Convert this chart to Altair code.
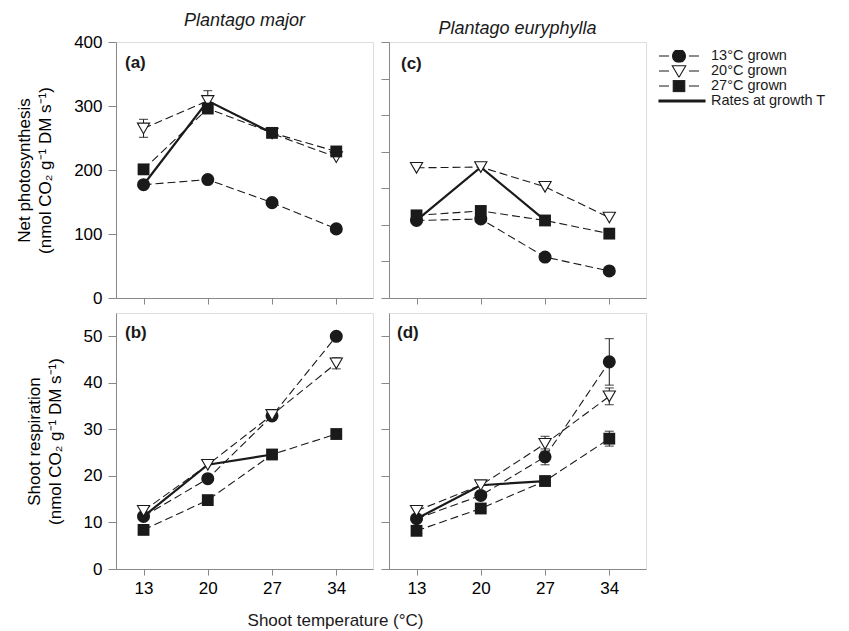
import altair as alt
import pandas as pd

INK = "#1a1a1a"
FONT = "Liberation Sans"

# ---------------- data ----------------
temps = [13, 20, 27, 34]
growth = ["13°C grown", "20°C grown", "27°C grown"]
gt_label = "Rates at growth T"

# Net photosynthesis, Plantago major (a)
pm_photo_13 = [177, 185, 149, 108]
pm_photo_20 = [265, 308, 257, 220]
pm_photo_27 = [201, 296, 258, 229]
pm_photo_err_13 = [0, 0, 0, 0]
pm_photo_err_20 = [14, 16, 0, 0]
pm_photo_err_27 = [0, 0, 0, 0]

# Net photosynthesis, Plantago euryphylla (c)
pe_photo_13 = [106, 108, 56, 37]
pe_photo_20 = [178, 179, 152, 110]
pe_photo_27 = [113, 119, 106, 88]
pe_photo_err_13 = [0, 0, 0, 0]
pe_photo_err_20 = [0, 0, 0, 0]
pe_photo_err_27 = [0, 0, 0, 0]

# Shoot respiration, Plantago major (b)
pm_resp_13 = [11.3, 19.4, 32.9, 50.0]
pm_resp_20 = [12.5, 22.4, 33.1, 44.2]
pm_resp_27 = [8.4, 14.8, 24.6, 29.0]
pm_resp_err_13 = [0, 0, 0, 0]
pm_resp_err_20 = [0, 0, 0, 1.2]
pm_resp_err_27 = [0, 0, 0, 0]

# Shoot respiration, Plantago euryphylla (d)
pe_resp_13 = [10.8, 15.8, 24.1, 44.5]
pe_resp_20 = [12.5, 18.0, 26.9, 37.1]
pe_resp_27 = [8.2, 13.0, 18.9, 28.0]
pe_resp_err_13 = [0, 0, 1.7, 5.0]
pe_resp_err_20 = [0, 0, 1.6, 1.8]
pe_resp_err_27 = [0, 0, 0, 1.6]

photo_ticks_a = [0, 100, 200, 300, 400]
photo_ticks_c = [0, 50, 100, 150, 200, 250, 300, 350]
resp_ticks = [0, 10, 20, 30, 40, 50]

legend_entries = growth + [gt_label]

# legend symbols (custom paths: dash - marker - dash), unit box = 40 px
legend_paths = [
    "M-1,0H-0.5M0.5,0H1M-0.325,0A0.325,0.325,0,1,0,0.325,0A0.325,0.325,0,1,0,-0.325,0Z",
    "M-1,0H-0.5M0.5,0H1M-0.3375,-0.2625L0.3375,-0.2625L0,0.3125Z",
    "M-1,0H-0.5M0.5,0H1M-0.2875,-0.2875H0.2875V0.2875H-0.2875Z",
    "M-1,-0.05H1.3V0.05H-1Z",
]
legend_fills = [INK, "white", INK, INK]
legend_strokes = [INK, INK, INK, INK]


def build_df(v13, v20, v27, e13, e20, e27):
    rows = []
    for g, vals, errs in zip(growth, [v13, v20, v27], [e13, e20, e27]):
        for t, v, e in zip(temps, vals, errs):
            rows.append({"temp": t, "value": v, "growth": g,
                         "lo": v - e, "hi": v + e, "err": e})
    return pd.DataFrame(rows)


def growth_t_df(v13, v20, v27):
    return pd.DataFrame({"temp": [13, 20, 27],
                         "value": [v13[0], v20[1], v27[2]]})


def panel(df, gt, ydom, yticks, show_x, show_y, ytitle, label, lab_x, lab_y,
          header=None, legend=False):
    xax = alt.Axis(values=temps, labels=show_x, title=None, tickSize=6,
                   labelPadding=5, labelFontSize=17, grid=False)
    yax = alt.Axis(values=yticks, labels=show_y, title=ytitle if show_y else None,
                   tickSize=8, labelPadding=6, labelFontSize=17, grid=False,
                   titleFontSize=17, titleFontWeight="normal", titlePadding=19,
                   titleLineHeight=21)
    xs = alt.Scale(domain=[10, 38], nice=False)
    ys = alt.Scale(domain=ydom, nice=False, zero=True)

    def X(f="temp"):
        return alt.X(f"{f}:Q", scale=xs, axis=xax)

    def Y(f="value"):
        return alt.Y(f"{f}:Q", scale=ys, axis=yax)

    base = alt.Chart(df)
    lines = base.mark_line(color=INK, strokeWidth=1.1, strokeDash=[8, 4]).encode(
        x=X(), y=Y(), detail="growth:N")
    gtline = alt.Chart(gt).mark_line(color=INK, strokeWidth=2.2).encode(x=X(), y=Y())
    errdf = df[df["err"] > 0]
    layers = [lines, gtline]
    if len(errdf):
        eb = alt.Chart(errdf)
        layers.append(eb.mark_rule(color=INK, strokeWidth=1).encode(
            x=X(), y=Y("lo"), y2="hi:Q"))
        layers.append(eb.mark_tick(color=INK, orient="horizontal", size=9,
                                   thickness=1.2).encode(x=X(), y=Y("lo")))
        layers.append(eb.mark_tick(color=INK, orient="horizontal", size=9,
                                   thickness=1.2).encode(x=X(), y=Y("hi")))
    circ = base.transform_filter(alt.datum.growth == growth[0]).mark_point(
        shape="circle", filled=True, size=170, color=INK, opacity=1).encode(x=X(), y=Y())
    tri = base.transform_filter(alt.datum.growth == growth[1]).mark_point(
        shape="triangle-down", filled=True, fill="white", stroke=INK,
        strokeWidth=1.1, size=150, opacity=1).encode(x=X(), y=Y())
    sq = base.transform_filter(alt.datum.growth == growth[2]).mark_point(
        shape="square", filled=True, size=140, color=INK, opacity=1).encode(x=X(), y=Y())
    layers += [circ, tri, sq]
    lab = alt.Chart(pd.DataFrame({"t": [label]})).mark_text(
        align="left", baseline="top", fontSize=17, fontWeight="bold",
        font=FONT, color=INK).encode(text="t:N", x=alt.value(lab_x), y=alt.value(lab_y))
    layers.append(lab)
    if legend:
        leg = alt.Legend(title=None, orient="none", legendX=542, legendY=8,
                         symbolSize=1600, labelFontSize=14.5, labelFont=FONT,
                         labelColor=INK, symbolOpacity=1, symbolStrokeColor=INK,
                         symbolStrokeWidth=1.1, labelOffset=11, rowPadding=0,
                         clipHeight=12, padding=0)
        ldf = pd.DataFrame({"entry": legend_entries})
        lsc = dict(domain=legend_entries)
        layers.append(alt.Chart(ldf).mark_point(
            filled=True, stroke=INK, opacity=0).encode(
            x=alt.value(0), y=alt.value(0),
            shape=alt.Shape("entry:N", scale=alt.Scale(range=legend_paths, **lsc), legend=leg),
            fill=alt.Fill("entry:N", scale=alt.Scale(range=legend_fills, **lsc), legend=leg),
            stroke=alt.Stroke("entry:N", scale=alt.Scale(range=legend_strokes, **lsc), legend=leg)))
    ch = alt.layer(*layers)
    props = dict(width=257, height=256)
    if header:
        props["title"] = alt.TitleParams(header, fontStyle="italic", fontWeight="normal",
                                         fontSize=18, font=FONT, color=INK,
                                         anchor="middle", offset=3)
    return ch.properties(**props)


a = panel(build_df(pm_photo_13, pm_photo_20, pm_photo_27,
                   pm_photo_err_13, pm_photo_err_20, pm_photo_err_27),
          growth_t_df(pm_photo_13, pm_photo_20, pm_photo_27),
          [0, 400], photo_ticks_a, False, True,
          ["Net photosynthesis", "(nmol CO₂ g⁻¹ DM s⁻¹)"], "(a)", 9, 13,
          header="Plantago major")
c = panel(build_df(pe_photo_13, pe_photo_20, pe_photo_27,
                   pe_photo_err_13, pe_photo_err_20, pe_photo_err_27),
          growth_t_df(pe_photo_13, pe_photo_20, pe_photo_27),
          [0, 350], photo_ticks_c, False, False, None, "(c)", 12, 14,
          header="Plantago euryphylla", legend=True)
b = panel(build_df(pm_resp_13, pm_resp_20, pm_resp_27,
                   pm_resp_err_13, pm_resp_err_20, pm_resp_err_27),
          growth_t_df(pm_resp_13, pm_resp_20, pm_resp_27),
          [0, 55], resp_ticks, True, True,
          ["Shoot respiration", "(nmol CO₂ g⁻¹ DM s⁻¹)"], "(b)", 9, 12)
d = panel(build_df(pe_resp_13, pe_resp_20, pe_resp_27,
                   pe_resp_err_13, pe_resp_err_20, pe_resp_err_27),
          growth_t_df(pe_resp_13, pe_resp_20, pe_resp_27),
          [0, 55], resp_ticks, True, False, None, "(d)", 8, 12)

top = alt.hconcat(a, c, spacing=16, bounds="flush")
bottom = alt.hconcat(b, d, spacing=16, bounds="flush").properties(
    title=alt.TitleParams("Shoot temperature (°C)", orient="bottom", anchor="middle",
                          fontSize=17, fontWeight="normal", font=FONT, color=INK,
                          offset=16))

chart = alt.vconcat(top, bottom, spacing=5).properties(
    padding={"left": 15, "right": 5, "top": 11, "bottom": 2}
).configure_view(stroke=INK, strokeWidth=1.2).configure_axis(
    domainColor=INK, tickColor=INK, labelColor=INK, titleColor=INK,
    labelFont=FONT, titleFont=FONT, domainWidth=1.2, tickWidth=1.1
).configure(font=FONT)

chart.save("out.html", embed_options={"renderer": "svg", "actions": False})
